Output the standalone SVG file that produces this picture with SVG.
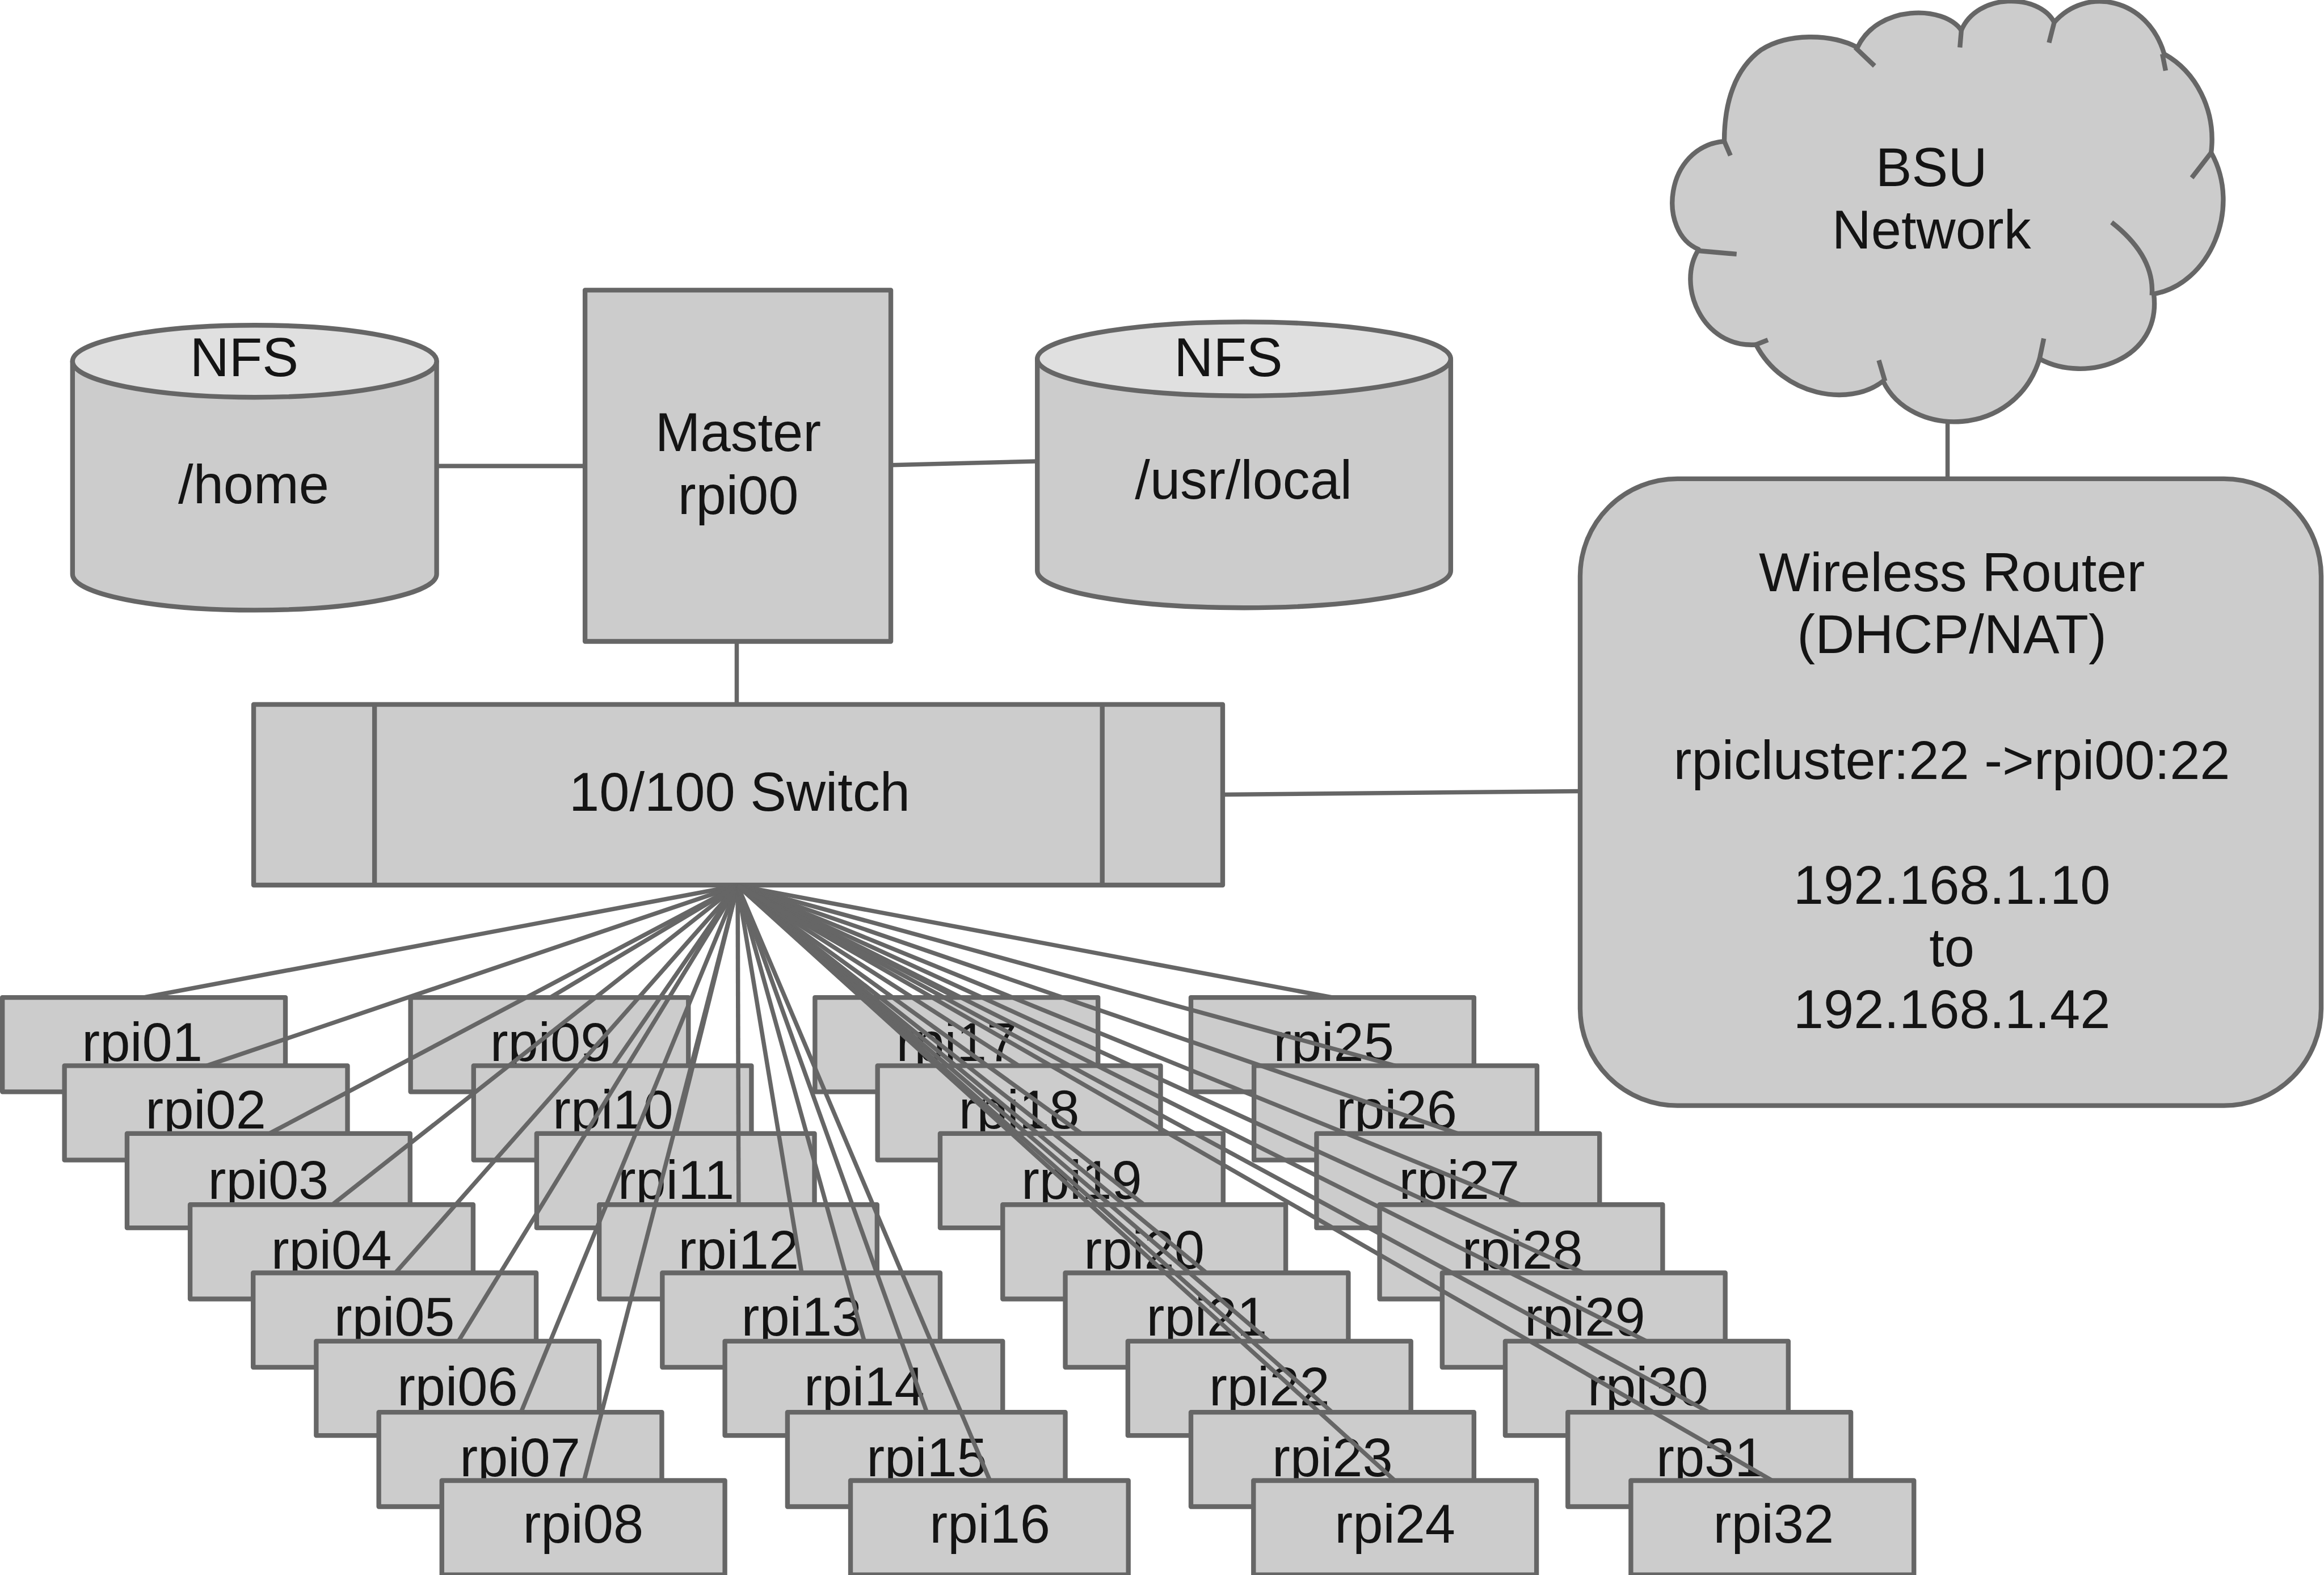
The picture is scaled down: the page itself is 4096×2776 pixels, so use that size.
<svg xmlns="http://www.w3.org/2000/svg" width="4096" height="2776" viewBox="0 0 4096 2776">
<style>
.s{fill:#ccc;stroke:#666;stroke-width:10;stroke-linejoin:round}
.t{fill:#e0e0e0;stroke:#666;stroke-width:10}
.i{fill:none;stroke:#666;stroke-width:10}
text{font-family:"Liberation Sans",Arial,sans-serif;font-size:114.500px;fill:#141414;text-anchor:middle}
#connectors line{stroke:#666;stroke-width:9}
</style>
<rect width="4096" height="2776" fill="#fff"/>
<g transform="scale(0.83558)">
<g id="cloud">
<path class="s" d="M3637 298C3510 310 3495 490 3583 526C3535 600 3590 735 3704 727C3760 835 3900 860 3972 804C4030 925 4250 925 4302 757C4400 810 4560 760 4543 620C4660 600 4730 440 4664 322C4675 230 4630 150 4565 114C4530 -5 4400 -30 4333 47C4300 -15 4170 -15 4137 64C4100 10 3960 10 3918 100C3860 70 3770 70 3715 105C3660 145 3637 215 3637 298Z"/>
<path class="i" d="M3637 298L3650 328M3583 529L3663 536M3704 727L3729 717M3963 760L3976 804M4311 714L4302 757M4454 469Q4545 540 4539 623M4664 322L4623 375M4561 114L4568 149M4333 47L4322 90M4137 64L4134 100M3913 100L3954 139"/>
<text x="4074" y="392">BSU</text>
<text x="4074" y="524">Network</text>
</g>
<g id="router">
<rect class="s" x="3333" y="1010" width="1563" height="1322" rx="205"/>
<text x="4117" y="1247">Wireless Router</text>
<text x="4117" y="1378">(DHCP/NAT)</text>
<text x="4117" y="1643">rpicluster:22 -&gt;rpi00:22</text>
<text x="4117" y="1907">192.168.1.10</text>
<text x="4117" y="2038">to</text>
<text x="4117" y="2169">192.168.1.42</text>
</g>
<g id="nfs-home">
<path class="s" d="M153 762V1211A384 76 0 0 0 921 1211V762Z"/>
<ellipse class="t" cx="537" cy="762" rx="384" ry="76"/>
<text x="515" y="794">NFS</text>
<text x="535" y="1062">/home</text>
</g>
<g id="master">
<rect class="s" x="1234" y="612" width="645" height="741"/>
<text x="1557" y="952">Master</text>
<text x="1557" y="1084">rpi00</text>
</g>
<g id="nfs-local">
<path class="s" d="M2188 757V1204A436 78 0 0 0 3060 1204V757Z"/>
<ellipse class="t" cx="2624" cy="757" rx="436" ry="78"/>
<text x="2591" y="794">NFS</text>
<text x="2623" y="1052">/usr/local</text>
</g>
<g id="switch">
<rect class="s" x="535" y="1486" width="2044" height="381"/>
<path class="i" d="M790 1486V1867M2325 1486V1867"/>
<text x="1560" y="1710">10/100 Switch</text>
</g>
<g id="rpi01"><rect class="s" x="5" y="2104" width="597" height="199"/><text x="300" y="2238">rpi01</text></g>
<g id="rpi02"><rect class="s" x="136" y="2248" width="597" height="199"/><text x="434" y="2380">rpi02</text></g>
<g id="rpi03"><rect class="s" x="268" y="2391" width="597" height="199"/><text x="566" y="2529">rpi03</text></g>
<g id="rpi04"><rect class="s" x="401" y="2541" width="597" height="199"/><text x="699" y="2676">rpi04</text></g>
<g id="rpi05"><rect class="s" x="534" y="2685" width="597" height="199"/><text x="832" y="2817">rpi05</text></g>
<g id="rpi06"><rect class="s" x="667" y="2829" width="597" height="199"/><text x="965" y="2964">rpi06</text></g>
<g id="rpi07"><rect class="s" x="799" y="2979" width="597" height="199"/><text x="1097" y="3114">rpi07</text></g>
<g id="rpi08"><rect class="s" x="932" y="3123" width="597" height="199"/><text x="1230" y="3254">rpi08</text></g>
<g id="rpi09"><rect class="s" x="866" y="2104" width="586" height="199"/><text x="1161" y="2238">rpi09</text></g>
<g id="rpi10"><rect class="s" x="999" y="2248" width="586" height="199"/><text x="1293" y="2380">rpi10</text></g>
<g id="rpi11"><rect class="s" x="1132" y="2391" width="586" height="199"/><text x="1426" y="2529">rpi11</text></g>
<g id="rpi12"><rect class="s" x="1264" y="2541" width="586" height="199"/><text x="1558" y="2676">rpi12</text></g>
<g id="rpi13"><rect class="s" x="1397" y="2685" width="586" height="199"/><text x="1691" y="2817">rpi13</text></g>
<g id="rpi14"><rect class="s" x="1529" y="2829" width="586" height="199"/><text x="1823" y="2964">rpi14</text></g>
<g id="rpi15"><rect class="s" x="1661" y="2979" width="586" height="199"/><text x="1955" y="3114">rpi15</text></g>
<g id="rpi16"><rect class="s" x="1794" y="3123" width="586" height="199"/><text x="2088" y="3254">rpi16</text></g>
<g id="rpi17"><rect class="s" x="1719" y="2104" width="597" height="199"/><text x="2017.500" y="2238">rpi17</text></g>
<g id="rpi18"><rect class="s" x="1851" y="2248" width="597" height="199"/><text x="2149.500" y="2380">rpi18</text></g>
<g id="rpi19"><rect class="s" x="1983" y="2391" width="597" height="199"/><text x="2281.500" y="2529">rpi19</text></g>
<g id="rpi20"><rect class="s" x="2115" y="2541" width="597" height="199"/><text x="2413.500" y="2676">rpi20</text></g>
<g id="rpi21"><rect class="s" x="2247" y="2685" width="597" height="199"/><text x="2545.500" y="2817">rpi21</text></g>
<g id="rpi22"><rect class="s" x="2379" y="2829" width="597" height="199"/><text x="2677.500" y="2964">rpi22</text></g>
<g id="rpi23"><rect class="s" x="2512" y="2979" width="597" height="199"/><text x="2810.500" y="3114">rpi23</text></g>
<g id="rpi24"><rect class="s" x="2644" y="3123" width="597" height="199"/><text x="2942.500" y="3254">rpi24</text></g>
<g id="rpi25"><rect class="s" x="2512" y="2104" width="597" height="199"/><text x="2813" y="2238">rpi25</text></g>
<g id="rpi26"><rect class="s" x="2645" y="2248" width="597" height="199"/><text x="2946" y="2380">rpi26</text></g>
<g id="rpi27"><rect class="s" x="2777" y="2391" width="597" height="199"/><text x="3078" y="2529">rpi27</text></g>
<g id="rpi28"><rect class="s" x="2910" y="2541" width="597" height="199"/><text x="3211" y="2676">rpi28</text></g>
<g id="rpi29"><rect class="s" x="3042" y="2685" width="597" height="199"/><text x="3343" y="2817">rpi29</text></g>
<g id="rpi30"><rect class="s" x="3175" y="2829" width="597" height="199"/><text x="3476" y="2964">rpi30</text></g>
<g id="rpi31"><rect class="s" x="3307" y="2979" width="597" height="199"/><text x="3608" y="3114">rp31</text></g>
<g id="rpi32"><rect class="s" x="3440" y="3123" width="597" height="199"/><text x="3741" y="3254">rpi32</text></g>
<g id="connectors">
<line x1="921" y1="983" x2="1234" y2="983"/>
<line x1="1879" y1="981" x2="2188" y2="973"/>
<line x1="1554" y1="1353" x2="1554" y2="1486"/>
<line x1="2579" y1="1676" x2="3333" y2="1669"/>
<line x1="4108" y1="887" x2="4108" y2="1010"/>
<line x1="1556" y1="1868" x2="303" y2="2104"/>
<line x1="1556" y1="1868" x2="436" y2="2248"/>
<line x1="1556" y1="1868" x2="568" y2="2391"/>
<line x1="1556" y1="1868" x2="701" y2="2541"/>
<line x1="1556" y1="1868" x2="834" y2="2685"/>
<line x1="1556" y1="1868" x2="967" y2="2829"/>
<line x1="1556" y1="1868" x2="1099" y2="2979"/>
<line x1="1556" y1="1868" x2="1232" y2="3123"/>
<line x1="1556" y1="1868" x2="1161" y2="2104"/>
<line x1="1556" y1="1868" x2="1293" y2="2248"/>
<line x1="1556" y1="1868" x2="1426" y2="2391"/>
<line x1="1556" y1="1868" x2="1558" y2="2541"/>
<line x1="1556" y1="1868" x2="1691" y2="2685"/>
<line x1="1556" y1="1868" x2="1823" y2="2829"/>
<line x1="1556" y1="1868" x2="1955" y2="2979"/>
<line x1="1556" y1="1868" x2="2088" y2="3123"/>
<line x1="1556" y1="1868" x2="2017" y2="2104"/>
<line x1="1556" y1="1868" x2="2149" y2="2248"/>
<line x1="1556" y1="1868" x2="2281" y2="2391"/>
<line x1="1556" y1="1868" x2="2413" y2="2541"/>
<line x1="1556" y1="1868" x2="2545" y2="2685"/>
<line x1="1556" y1="1868" x2="2677" y2="2829"/>
<line x1="1556" y1="1868" x2="2810" y2="2979"/>
<line x1="1556" y1="1868" x2="2942" y2="3123"/>
<line x1="1556" y1="1868" x2="2810" y2="2104"/>
<line x1="1556" y1="1868" x2="2943" y2="2248"/>
<line x1="1556" y1="1868" x2="3075" y2="2391"/>
<line x1="1556" y1="1868" x2="3208" y2="2541"/>
<line x1="1556" y1="1868" x2="3340" y2="2685"/>
<line x1="1556" y1="1868" x2="3473" y2="2829"/>
<line x1="1556" y1="1868" x2="3605" y2="2979"/>
<line x1="1556" y1="1868" x2="3738" y2="3123"/>
</g>
</g>
</svg>
